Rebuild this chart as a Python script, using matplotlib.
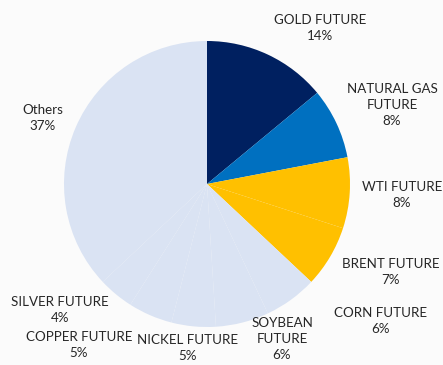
import matplotlib.pyplot as plt

# data
names = ["GOLD FUTURE", "NATURAL GAS\nFUTURE", "WTI FUTURE", "BRENT FUTURE",
         "CORN FUTURE", "SOYBEAN\nFUTURE", "NICKEL FUTURE", "COPPER FUTURE",
         "SILVER FUTURE", "Others"]
shares = [14, 8, 8, 7, 6, 6, 5, 5, 4, 37]

# styles / layout (label positions in pixels from top-left)
colors = ["#002060", "#0070C0", "#FFC000", "#FFC000",
          "#DAE3F3", "#DAE3F3", "#DAE3F3", "#DAE3F3", "#DAE3F3", "#DAE3F3"]
label_pos = [(320, 28), (392, 105), (402, 195), (391, 272), (381, 321),
             (282, 339), (188, 348), (79, 345), (60, 310), (43, 118)]

W, H = 443, 365
fig = plt.figure(figsize=(W / 100, H / 100), dpi=100)
fig.patch.set_facecolor("#fbfbfb")
ax = fig.add_axes([0, 0, 1, 1])

ax.pie(shares, colors=colors, startangle=90, counterclock=False,
       radius=143, center=(207, H - 184), frame=True,
       wedgeprops=dict(linewidth=0))
ax.set_xlim(0, W)
ax.set_ylim(0, H)
ax.set_aspect("equal")
ax.axis("off")

for name, val, (x, y) in zip(names, shares, label_pos):
    ax.text(x, H - y, f"{name}\n{val}%", ha="center", va="center",
            fontsize=9.6, family="Lato", color="#262626", linespacing=1.4)

fig.savefig("out.png", dpi=100, facecolor=fig.get_facecolor())
